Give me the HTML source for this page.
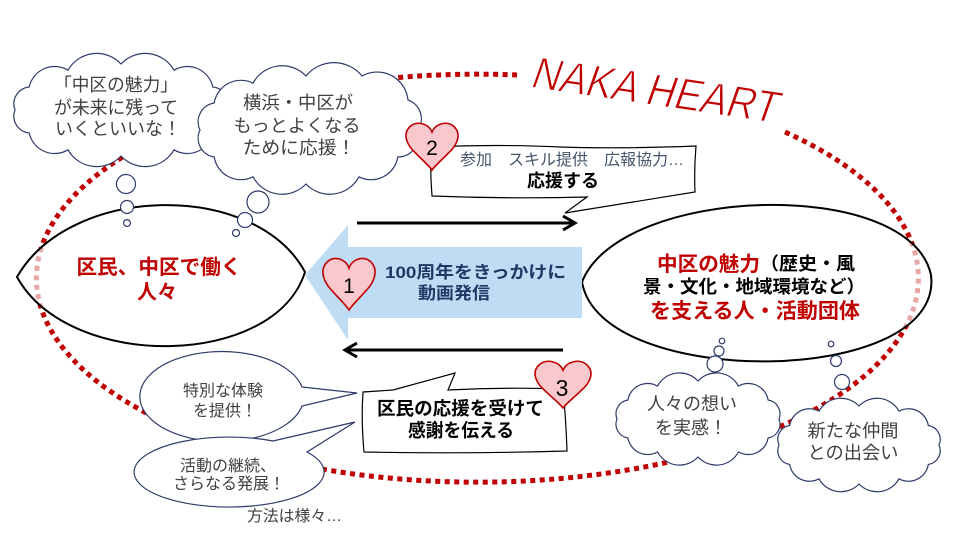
<!DOCTYPE html>
<html><head><meta charset="utf-8">
<style>
html,body{margin:0;padding:0;background:#fff;}
svg{display:block;}
text{font-family:"Liberation Sans","Noto Sans CJK JP",sans-serif;}
</style></head>
<body>
<svg width="960" height="540" viewBox="0 0 960 540" xmlns="http://www.w3.org/2000/svg">
<rect width="960" height="540" fill="#fff"/>

<!-- big dotted red ellipse -->
<path d="M785,132 A441,204 0 1 1 517,75" fill="none" stroke="#c00000" stroke-width="5" stroke-dasharray="5 4.5"/>

<!-- left lens ellipse -->
<path d="M17,277 C70,184 255,180 305,272 C275,368 70,372 17,277 Z" fill="#fff" fill-opacity="0.65" stroke="#000" stroke-width="2"/>
<!-- right ellipse -->
<path d="M582,282 C620,185 910,176 931,275 C945,388 600,390 582,282 Z" fill="#fff" fill-opacity="0.65" stroke="#000" stroke-width="2"/>

<!-- blue arrow -->
<polygon points="305,275 348,225 348,247 582,247 582,318 348,318 348,340" fill="#bfdcf5"/>

<!-- black arrows -->
<line x1="357" y1="223" x2="574" y2="223" stroke="#000" stroke-width="3"/>
<polyline points="563,216 575,223 563,230" fill="none" stroke="#000" stroke-width="3"/>
<line x1="563" y1="350" x2="346" y2="350" stroke="#000" stroke-width="3"/>
<polyline points="357,343 345,350 357,357" fill="none" stroke="#000" stroke-width="3"/>

<!-- clouds -->
<g fill="#fff" stroke="#2f3b69" stroke-width="1.2">
<path d="M227,110 A17,17 0 0 1 212.8,133 A26,26 0 0 1 174,149.8 A33,33 0 0 1 121,156 A33,33 0 0 1 68,149.8 A26,26 0 0 1 29.2,133 A17,17 0 0 1 15,110 A17,17 0 0 1 29.2,87 A26,26 0 0 1 68,70.2 A33,33 0 0 1 121,64 A33,33 0 0 1 174,70.2 A26,26 0 0 1 212.8,87 A17,17 0 0 1 227,110 Z"/>
<path d="M418,130 A21,21 0 0 1 397.8,157 A27,27 0 0 1 359,176.8 A33,33 0 0 1 306,184 A33,33 0 0 1 253,176.8 A27,27 0 0 1 214.2,157 A19,19 0 0 1 200,130 A19,19 0 0 1 214.2,103 A27,27 0 0 1 253,83.2 A33,33 0 0 1 306,76 A36,36 0 0 1 362,76 A31,31 0 0 1 408,100 A20,20 0 0 1 418,130 Z"/>
<path d="M779,419 A14,14 0 0 1 768.1,438 A20,20 0 0 1 738.5,451.9 A25,25 0 0 1 698,457 A25,25 0 0 1 657.5,451.9 A20,20 0 0 1 627.9,438 A14,14 0 0 1 617,419 A14,14 0 0 1 627.9,400 A20,20 0 0 1 657.5,386.1 A25,25 0 0 1 698,381 A25,25 0 0 1 738.5,386.1 A20,20 0 0 1 768.1,400 A14,14 0 0 1 779,419 Z"/>
<path d="M939,445 A14,14 0 0 1 928.3,464.5 A20,20 0 0 1 899,478.8 A25,25 0 0 1 859,484 A25,25 0 0 1 819,478.8 A20,20 0 0 1 789.7,464.5 A14,14 0 0 1 779,445 A14,14 0 0 1 789.7,425.5 A20,20 0 0 1 819,411.2 A25,25 0 0 1 859,406 A25,25 0 0 1 899,411.2 A20,20 0 0 1 928.3,425.5 A14,14 0 0 1 939,445 Z"/>
<!-- thought bubbles -->
<circle cx="126" cy="184" r="9.5"/>
<circle cx="127" cy="207" r="6.5"/>
<circle cx="127" cy="223" r="3.4"/>
<circle cx="258" cy="202" r="11"/>
<circle cx="245" cy="220" r="7.5"/>
<circle cx="236" cy="233" r="3.5"/>
<circle cx="722" cy="341" r="2.8"/>
<circle cx="719" cy="351" r="5"/>
<circle cx="715" cy="364" r="8"/>
<circle cx="831" cy="344" r="2.8"/>
<circle cx="836" cy="361" r="5.5"/>
<circle cx="842" cy="382" r="7.5"/>
<!-- speech bubbles -->
<path d="M302,387 L357,393 L302,406 A82,45 0 1 1 302,387 Z"/>
<path d="M273,441 L355,422 L307,452 A95,35 0 1 1 273,441 Z"/>
</g>

<!-- callout 2 -->
<path d="M431,147 Q500,144 560,147 Q620,149 696,146 Q694,170 695,192 L565,213 L587,197 Q510,199 432,196 Q430,172 431,147 Z" fill="#fff" stroke="#000" stroke-width="1.2"/>
<!-- callout 3 -->
<path d="M363,392 L393,390 L455,373 L448,390 Q510,387 563,389 Q566,420 567,451 Q465,454 364,452 Q361,420 363,392 Z" fill="#fff" stroke="#000" stroke-width="1.2"/>

<!-- hearts -->
<g fill="#f9c8cc" stroke="#c00000" stroke-width="1.6">
<path vector-effect="non-scaling-stroke" transform="translate(322,257) scale(1,1.02)" d="M27,11 C24,2 12,-2 5,5 C-3,13 2,25 10,33 C16,40 23,46 27,52 C31,46 38,40 44,33 C52,25 57,13 49,5 C42,-2 30,2 27,11 Z"/>
<path vector-effect="non-scaling-stroke" transform="translate(405,122) scale(1,0.923)" d="M27,11 C24,2 12,-2 5,5 C-3,13 2,25 10,33 C16,40 23,46 27,52 C31,46 38,40 44,33 C52,25 57,13 49,5 C42,-2 30,2 27,11 Z"/>
<path vector-effect="non-scaling-stroke" transform="translate(534,360) scale(1.074,0.923)" d="M27,11 C24,2 12,-2 5,5 C-3,13 2,25 10,33 C16,40 23,46 27,52 C31,46 38,40 44,33 C52,25 57,13 49,5 C42,-2 30,2 27,11 Z"/>
</g>
<text x="349" y="293" font-size="21" text-anchor="middle" fill="#000">1</text>
<text x="432" y="155" font-size="21" text-anchor="middle" fill="#000">2</text>
<text x="562" y="396" font-size="23" text-anchor="middle" fill="#000">3</text>

<!-- NAKA HEART -->
<text transform="translate(529,87) rotate(8.3) skewX(-11)" font-size="45" fill="#c00000" stroke="#fff" stroke-width="1.1" textLength="248" lengthAdjust="spacingAndGlyphs">NAKA HEART</text>

<!-- cloud 1 text -->
<g font-size="18" fill="#404040" text-anchor="middle">
<text x="116" y="91" textLength="124" lengthAdjust="spacingAndGlyphs">「中区の魅力」</text>
<text x="116" y="114" textLength="124" lengthAdjust="spacingAndGlyphs">が未来に残って</text>
<text x="118" y="135" textLength="126" lengthAdjust="spacingAndGlyphs">いくといいな！</text>
<!-- cloud 2 text -->
<text x="298" y="109" textLength="110" lengthAdjust="spacingAndGlyphs">横浜・中区が</text>
<text x="297" y="132" textLength="127" lengthAdjust="spacingAndGlyphs">もっとよくなる</text>
<text x="299" y="154" textLength="113" lengthAdjust="spacingAndGlyphs">ために応援！</text>
<!-- cloud 3/4 -->
<text x="692" y="410" textLength="90" lengthAdjust="spacingAndGlyphs">人々の想い</text>
<text x="691" y="434" textLength="72" lengthAdjust="spacingAndGlyphs">を実感！</text>
<text x="853" y="437" textLength="91" lengthAdjust="spacingAndGlyphs">新たな仲間</text>
<text x="853" y="459" textLength="91" lengthAdjust="spacingAndGlyphs">との出会い</text>
</g>
<g font-size="16" fill="#404040" text-anchor="middle">
<text x="223" y="396" textLength="80" lengthAdjust="spacingAndGlyphs">特別な体験</text>
<text x="225" y="416" textLength="64" lengthAdjust="spacingAndGlyphs">を提供！</text>
<text x="228" y="471" textLength="96" lengthAdjust="spacingAndGlyphs">活動の継続、</text>
<text x="229" y="489" textLength="112" lengthAdjust="spacingAndGlyphs">さらなる発展！</text>
</g>
<text x="247" y="521" font-size="15.5" fill="#404040" textLength="95" lengthAdjust="spacingAndGlyphs">方法は様々…</text>

<!-- callout 2 text -->
<text x="460" y="165" font-size="16" fill="#44546a" textLength="224" lengthAdjust="spacingAndGlyphs">参加　スキル提供　広報協力…</text>
<text x="527" y="187" font-size="18" font-weight="bold" fill="#000" textLength="72" lengthAdjust="spacingAndGlyphs">応援する</text>

<!-- left ellipse text -->
<g font-size="20.5" font-weight="bold" fill="#c00000" text-anchor="middle">
<text x="159" y="274" textLength="165" lengthAdjust="spacingAndGlyphs">区民、中区で働く</text>
<text x="157" y="299" textLength="40" lengthAdjust="spacingAndGlyphs">人々</text>
</g>

<!-- blue arrow text -->
<g font-size="17" font-weight="bold" fill="#1f3864">
<text x="385" y="278" textLength="181" lengthAdjust="spacingAndGlyphs">100周年をきっかけに</text>
<text x="418" y="299" textLength="72" lengthAdjust="spacingAndGlyphs">動画発信</text>
</g>

<!-- right ellipse text -->
<g font-weight="bold">
<text x="657" y="271" font-size="20.5" fill="#c00000" textLength="103" lengthAdjust="spacingAndGlyphs">中区の魅力</text>
<text x="760" y="270" font-size="18" fill="#000" textLength="95" lengthAdjust="spacingAndGlyphs">（歴史・風</text>
<text x="643" y="293" font-size="18" fill="#000" textLength="222" lengthAdjust="spacingAndGlyphs">景・文化・地域環境など）</text>
<text x="650" y="318" font-size="21" fill="#c00000" textLength="210" lengthAdjust="spacingAndGlyphs">を支える人・活動団体</text>
</g>

<!-- callout 3 text -->
<g font-weight="bold" fill="#000">
<text x="377" y="415" font-size="18.5" textLength="167" lengthAdjust="spacingAndGlyphs">区民の応援を受けて</text>
<text x="408" y="437" font-size="18.5" textLength="106" lengthAdjust="spacingAndGlyphs">感謝を伝える</text>
</g>
</svg>
</body></html>
